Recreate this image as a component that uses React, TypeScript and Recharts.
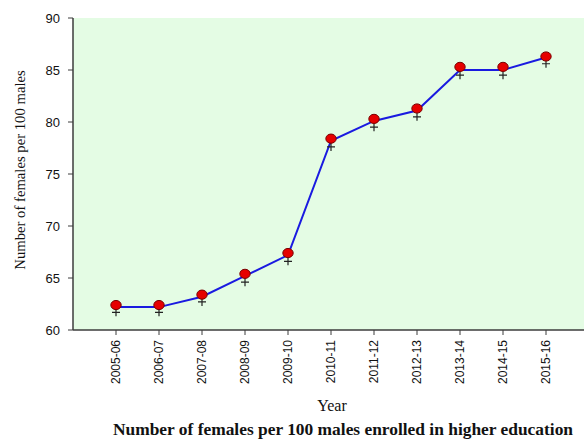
import React from 'react';
import { LineChart, Line, XAxis, YAxis, CartesianGrid } from 'recharts';

const years = ['2005-06', '2006-07', '2007-08', '2008-09', '2009-10', '2010-11', '2011-12', '2012-13', '2013-14', '2014-15', '2015-16'];
const ratio = [62.2, 62.2, 63.2, 65.2, 67.2, 78.2, 80.1, 81.1, 85.0, 85.0, 86.2];
const dotValues = [62.4, 62.4, 63.4, 65.4, 67.4, 78.4, 80.3, 81.3, 85.3, 85.3, 86.3];
const plusValues = [61.7, 61.7, 62.7, 64.6, 66.6, 77.6, 79.5, 80.5, 84.5, 84.5, 85.6];
const yTicks = [60, 65, 70, 75, 80, 85, 90];

const chartData = years.map((year, i) => ({
  year,
  ratio: ratio[i],
  dot: dotValues[i],
  plus: plusValues[i],
}));

const axisColor = '#3c3c3c';
const serif = '"Liberation Serif", "Times New Roman", serif';
const sans = '"Liberation Sans", Arial, sans-serif';

const RedDot = (props: any) => {
  const { cx, cy, index } = props;
  if (cx == null || cy == null) return null;
  return <ellipse key={`d-${index}`} cx={cx} cy={cy} rx={5.2} ry={4.6} fill="#e60000" stroke="#7a0000" strokeWidth={1} />;
};

const PlusMark = (props: any) => {
  const { cx, cy, index } = props;
  if (cx == null || cy == null) return null;
  return (
    <path
      key={`p-${index}`}
      d={`M${cx - 4},${cy}H${cx + 4}M${cx},${cy - 4}V${cy + 4}`}
      stroke="#222"
      strokeWidth={1.2}
      fill="none"
    />
  );
};

const YearTick = (props: any) => {
  const { x, y, payload } = props;
  return (
    <text
      x={x}
      y={y}
      transform={`rotate(-90, ${x}, ${y})`}
      textAnchor="end"
      dy="0.35em"
      fontSize={12}
      fontFamily={sans}
      fill="#111"
    >
      {payload.value}
    </text>
  );
};

export default function App() {
  return (
    <div style={{ position: 'absolute', left: 0, top: 0, width: 584, height: 441, background: '#fff' }}>
      <LineChart
        width={584}
        height={441}
        data={chartData}
        margin={{ top: 18, right: 0, bottom: 51, left: 0 }}
      >
        <CartesianGrid fill="#e4fce4" horizontal={false} vertical={false} />
        <XAxis
          xAxisId="top"
          orientation="top"
          dataKey="year"
          scale="point"
          padding={{ left: 43, right: 38 }}
          height={0}
          tick={false}
          tickLine={false}
          axisLine={{ stroke: axisColor, strokeWidth: 1.5 }}
        />
        <XAxis
          dataKey="year"
          scale="point"
          padding={{ left: 43, right: 38 }}
          height={60}
          interval={0}
          tick={<YearTick />}
          tickSize={5}
          tickMargin={5}
          axisLine={{ stroke: axisColor, strokeWidth: 1.5 }}
          tickLine={{ stroke: axisColor }}
        />
        <YAxis
          width={73}
          domain={[60, 90]}
          ticks={yTicks}
          tickSize={5}
          tickMargin={8}
          tick={{ fill: '#111', fontSize: 13, fontFamily: sans }}
          axisLine={{ stroke: axisColor, strokeWidth: 1.5 }}
          tickLine={{ stroke: axisColor }}
        />
        <Line
          dataKey="ratio"
          type="linear"
          stroke="#1a1ae0"
          strokeWidth={2}
          dot={false}
          activeDot={false}
          isAnimationActive={false}
        />
        <Line
          dataKey="plus"
          stroke="none"
          dot={<PlusMark />}
          activeDot={false}
          isAnimationActive={false}
        />
        <Line
          dataKey="dot"
          stroke="none"
          dot={<RedDot />}
          activeDot={false}
          isAnimationActive={false}
        />
      </LineChart>
      <div
        style={{
          position: 'absolute',
          left: 20,
          top: 170,
          transform: 'translate(-50%, -50%) rotate(-90deg)',
          whiteSpace: 'nowrap',
          fontFamily: serif,
          fontSize: 14.7,
          color: '#111',
        }}
      >
        Number of females per 100 males
      </div>
      <div
        style={{
          position: 'absolute',
          left: 332,
          top: 406,
          transform: 'translate(-50%, -50%)',
          whiteSpace: 'nowrap',
          fontFamily: serif,
          fontSize: 16,
          color: '#111',
        }}
      >
        Year
      </div>
      <div
        style={{
          position: 'absolute',
          left: 343,
          top: 429,
          transform: 'translate(-50%, -50%)',
          whiteSpace: 'nowrap',
          fontFamily: serif,
          fontSize: 17.4,
          fontWeight: 'bold',
          color: '#111',
        }}
      >
        Number of females per 100 males enrolled in higher education
      </div>
    </div>
  );
}
